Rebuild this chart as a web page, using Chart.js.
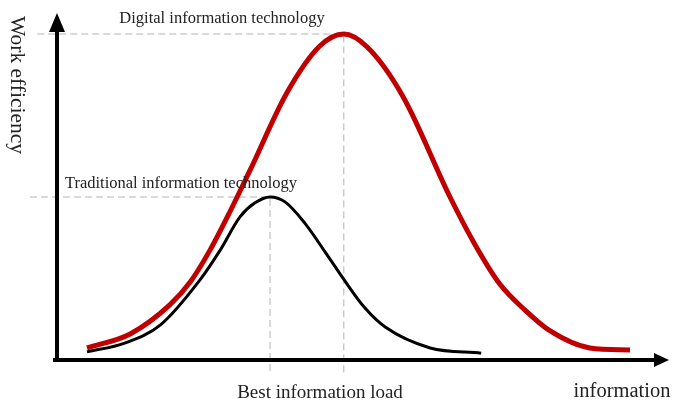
<!DOCTYPE html>
<html lang="en">
<head>
    <meta charset="UTF-8">
    <title>Work efficiency vs information</title>
    <style>
        body {
            margin: 0;
            padding: 0;
            background-color: #fff;
        }
        .chart-container {
            position: relative;
            width: 675px;
            height: 406px;
        }
    </style>
    <script src="https://cdn.jsdelivr.net/npm/chart.js"></script>
</head>
<body>
    <div class="chart-container">
        <canvas id="efficiencyChart"></canvas>
    </div>
    <script>
        // curve values (x = information, y = work efficiency, peak = 100)
        var digitalX = [5.0, 12.2, 18.8, 22.2, 25.5, 28.8, 32.2, 38.3, 43.8, 47.8, 51.7, 57.7, 65.5, 69.7, 73.8, 78.0, 82.2, 88.8, 95.5];
        var digitalY = [3.7, 8.0, 16.9, 23.9, 33.7, 45.4, 58.3, 81.9, 96.3, 100, 96.0, 80.7, 50.0, 35.3, 23.3, 15.3, 8.9, 3.7, 3.1];
        var traditionalX = [5.0, 11.3, 17.2, 23.8, 27.2, 30.5, 33.0, 35.5, 38.0, 41.3, 44.7, 48.0, 51.3, 54.7, 62.2, 70.7];
        var traditionalY = [2.5, 5.2, 10.7, 24.5, 33.7, 43.9, 48.2, 50.0, 48.5, 42.0, 33.1, 24.2, 16.0, 10.1, 3.7, 2.1];

        // where the dashed guide lines start on the left and end below the x axis
        var guideStartX = [-3.3, -4.5];
        var guideBottomY = -4.6;

        var seriesNames = ['Digital information technology', 'Traditional information technology'];
        var yAxisTitle = 'Work efficiency';
        var xAxisTitle = 'information';
        var peakLabel = 'Best information load';

        function toPoints(xs, ys) {
            return xs.map(function (x, i) { return { x: x, y: ys[i] }; });
        }

        function peakOf(xs, ys) {
            var k = ys.indexOf(Math.max.apply(null, ys));
            return { x: xs[k], y: ys[k] };
        }

        var digitalPeak = peakOf(digitalX, digitalY);
        var traditionalPeak = peakOf(traditionalX, traditionalY);

        function guide(startX, peak) {
            return [
                { x: startX, y: peak.y },
                { x: peak.x, y: peak.y },
                { x: peak.x, y: guideBottomY }
            ];
        }

        var serif = "'Liberation Serif', 'Times New Roman', serif";

        // axes with arrows plus the text labels
        var annotations = {
            id: 'annotations',
            afterDatasetsDraw: function (chart) {
                var c = chart.ctx;
                var xs = chart.scales.x, ys = chart.scales.y;
                var ox = xs.getPixelForValue(0), oy = ys.getPixelForValue(0);
                c.save();
                c.fillStyle = '#000';
                c.strokeStyle = '#000';
                c.lineWidth = 4;
                c.beginPath();
                c.moveTo(ox, oy + 2);
                c.lineTo(ox, 30);
                c.moveTo(ox - 4, oy);
                c.lineTo(656, oy);
                c.stroke();
                // arrow heads
                c.beginPath();
                c.moveTo(ox, 13);
                c.lineTo(ox + 8, 32);
                c.lineTo(ox - 8, 32);
                c.closePath();
                c.fill();
                c.beginPath();
                c.moveTo(669, oy);
                c.lineTo(654, oy - 7);
                c.lineTo(654, oy + 7);
                c.closePath();
                c.fill();

                c.fillStyle = '#222';
                c.textAlign = 'center';
                c.textBaseline = 'alphabetic';
                c.font = '16.5px ' + serif;
                c.fillText(seriesNames[0], 222, 23);
                c.fillText(seriesNames[1], 181, 188);
                c.font = '19px ' + serif;
                c.fillText(peakLabel, 320, 398);
                c.font = '20.5px ' + serif;
                c.fillText(xAxisTitle, 622, 397);

                c.translate(11, 85);
                c.rotate(Math.PI / 2);
                c.font = '21.5px ' + serif;
                c.fillText(yAxisTitle, 0, 0);
                c.restore();
            }
        };

        var ctx = document.getElementById('efficiencyChart').getContext('2d');
        var efficiencyChart = new Chart(ctx, {
            type: 'line',
            data: {
                datasets: [
                    {
                        label: seriesNames[0],
                        data: toPoints(digitalX, digitalY),
                        borderColor: '#c00000',
                        borderWidth: 5,
                        borderCapStyle: 'butt',
                        cubicInterpolationMode: 'monotone',
                        pointRadius: 0
                    },
                    {
                        label: seriesNames[1],
                        data: toPoints(traditionalX, traditionalY),
                        borderColor: '#000',
                        borderWidth: 3,
                        cubicInterpolationMode: 'monotone',
                        pointRadius: 0
                    },
                    {
                        label: 'digital guide',
                        data: guide(guideStartX[0], digitalPeak),
                        borderColor: '#b4b4b4',
                        borderWidth: 1,
                        borderDash: [7, 4],
                        tension: 0,
                        pointRadius: 0
                    },
                    {
                        label: 'traditional guide',
                        data: guide(guideStartX[1], traditionalPeak),
                        borderColor: '#b4b4b4',
                        borderWidth: 1,
                        borderDash: [7, 4],
                        tension: 0,
                        pointRadius: 0
                    }
                ]
            },
            options: {
                responsive: true,
                maintainAspectRatio: false,
                animation: false,
                layout: {
                    padding: { left: 27, right: 6, top: 17.7, bottom: 26.44 }
                },
                plugins: {
                    legend: { display: false },
                    tooltip: { enabled: false }
                },
                scales: {
                    x: { type: 'linear', min: -5, max: 102, display: false },
                    y: { type: 'linear', min: -6, max: 105, display: false }
                }
            },
            plugins: [annotations]
        });
    </script>
</body>
</html>
